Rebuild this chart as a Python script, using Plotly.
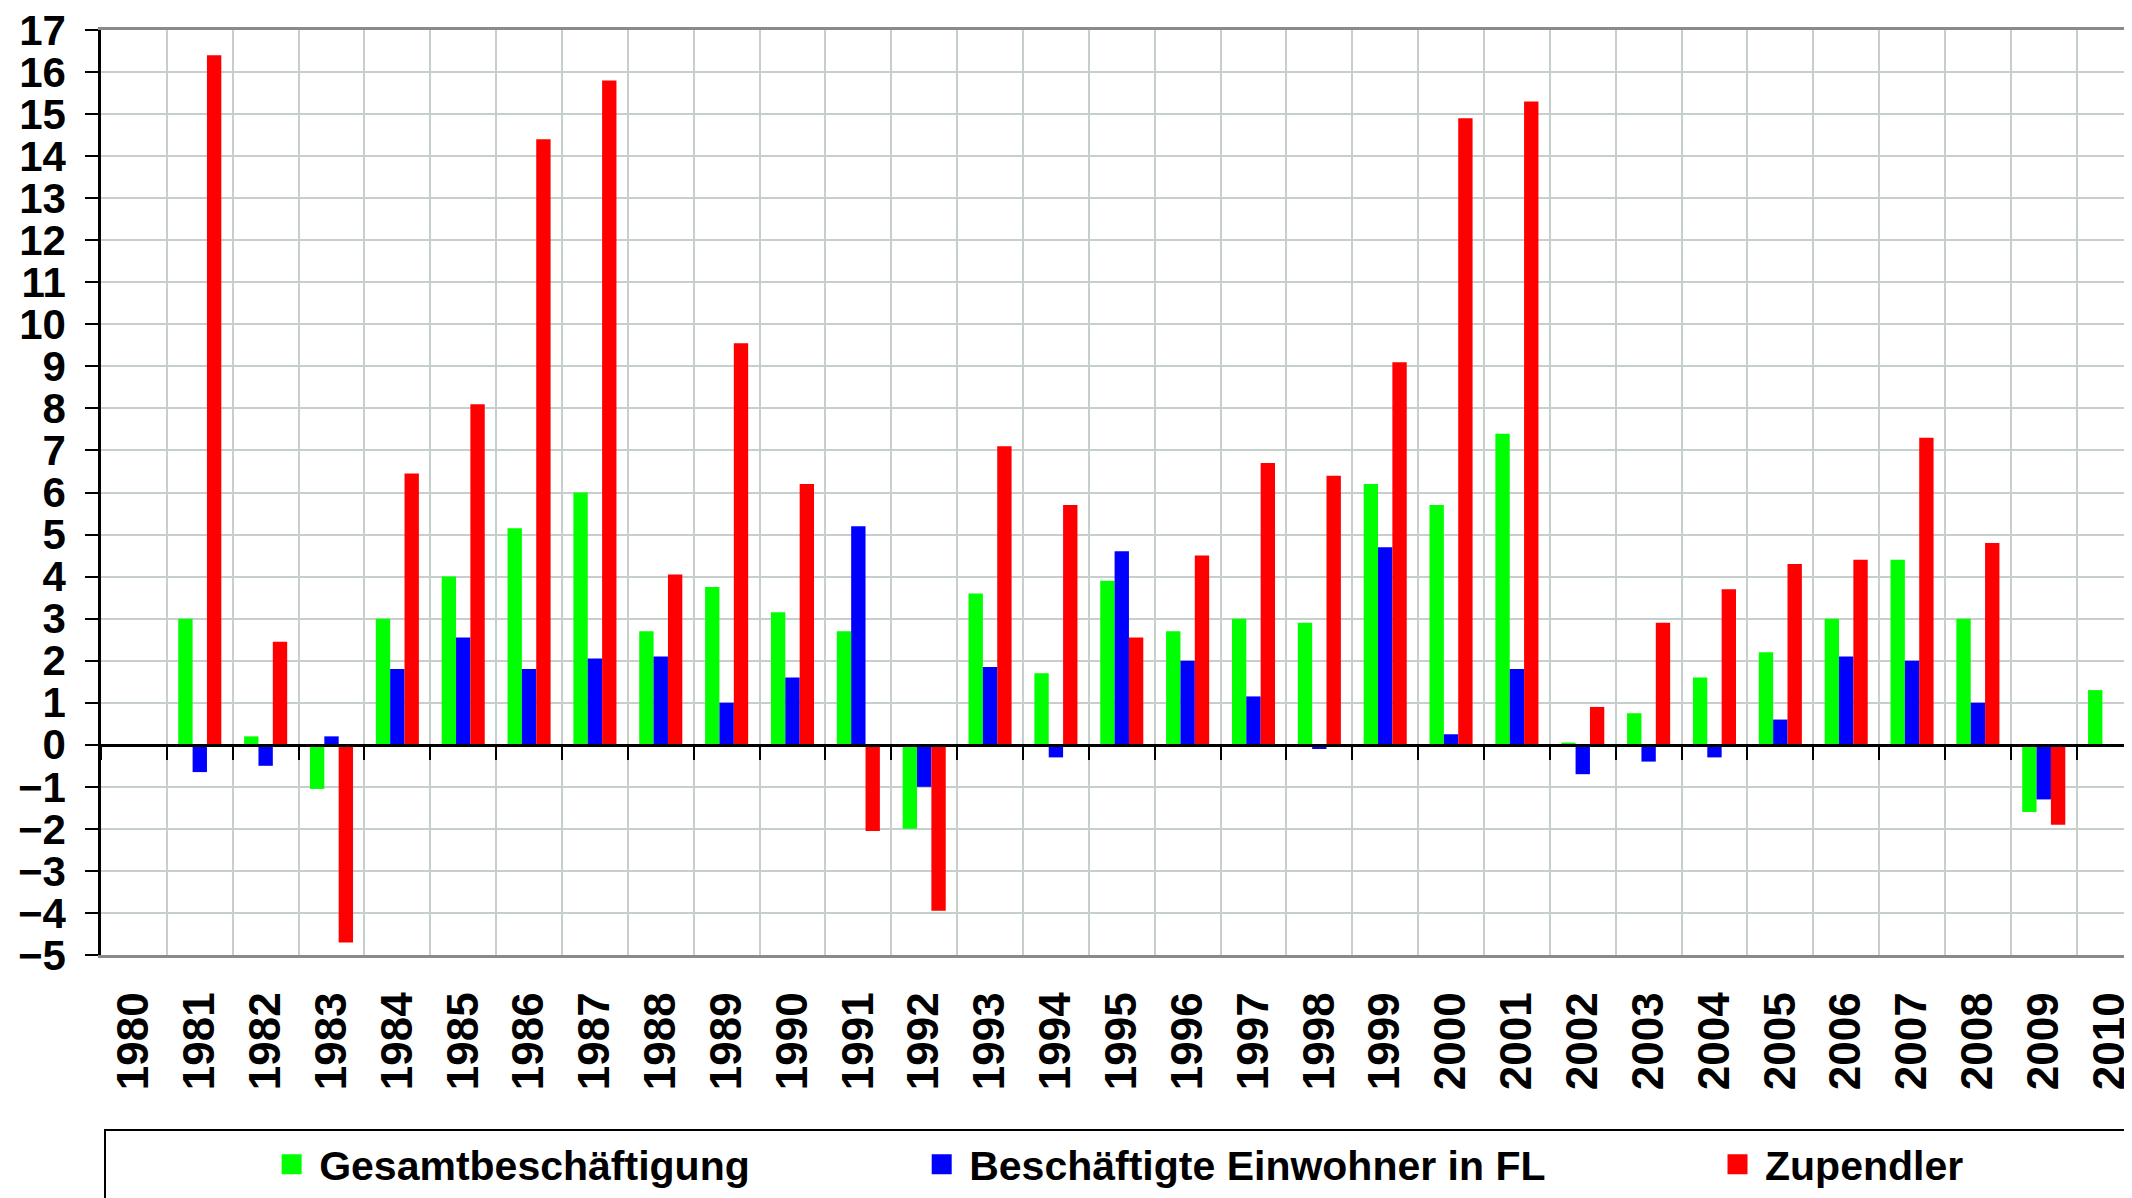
import plotly.graph_objects as go

years = [str(y) for y in range(1980, 2011)]
gesamt = [None, 3.0, 0.2, -1.05, 3.0, 4.0, 5.15, 6.0, 2.7, 3.75, 3.15, 2.7, -2.0, 3.6, 1.7, 3.9,
          2.7, 3.0, 2.9, 6.2, 5.7, 7.4, 0.05, 0.75, 1.6, 2.2, 3.0, 4.4, 3.0, -1.6, 1.3]
einwohner = [None, -0.65, -0.5, 0.2, 1.8, 2.55, 1.8, 2.05, 2.1, 1.0, 1.6, 5.2, -1.0, 1.85, -0.3, 4.6,
             2.0, 1.15, -0.1, 4.7, 0.25, 1.8, -0.7, -0.4, -0.3, 0.6, 2.1, 2.0, 1.0, -1.3, None]
zupendler = [None, 16.4, 2.45, -4.7, 6.45, 8.1, 14.4, 15.8, 4.05, 9.55, 6.2, -2.05, -3.95, 7.1, 5.7, 2.55,
             4.5, 6.7, 6.4, 9.1, 14.9, 15.3, 0.9, 2.9, 3.7, 4.3, 4.4, 7.3, 4.8, -1.9, None]

series = [
    ("Gesamtbeschäftigung", gesamt, "#00FF00"),
    ("Beschäftigte Einwohner in FL", einwohner, "#0000FF"),
    ("Zupendler", zupendler, "#FF0000"),
]

NB = "\u00a0"
pads = [14, 14, 14]

fig = go.Figure()
for name, vals, col in series:
    fig.add_trace(go.Bar(x=years, y=vals, name=name, marker=dict(color=col, line=dict(width=0)),
                         showlegend=False))
for (name, vals, col), p in zip(series, pads):
    fig.add_trace(go.Scatter(x=[None], y=[None], mode="markers", name=name + NB * p,
                             marker=dict(symbol="square", size=16, color=col,
                                         line=dict(color=col, width=4)),
                             showlegend=True, hoverinfo="skip"))
# helper trace for the zero-crossing axis with ticks
fig.add_trace(go.Scatter(x=years, y=[None] * len(years), xaxis="x2", mode="markers",
                         showlegend=False, hoverinfo="skip"))

font_family = "Liberation Sans, Arial, sans-serif"
grid = "#c6cfcc"

fig.update_layout(
    width=2124, height=1190,
    margin=dict(l=93, r=0, t=22, b=243, autoexpand=False),
    paper_bgcolor="white", plot_bgcolor="white",
    barmode="group", bargap=0.346, bargroupgap=0,
    font=dict(family=font_family, color="black"),
    xaxis=dict(
        type="category", range=[-0.5, 30.34], tickson="boundaries",
        showgrid=True, gridcolor=grid, gridwidth=2,
        ticks="", showline=True, mirror=True, linecolor="#8a8a8a", linewidth=2.5,
        tickangle=-90, tickfont=dict(size=44, weight="bold"),
        ticklabelstandoff=17, ticklabeloverflow="allow",
    ),
    xaxis2=dict(
        type="category", overlaying="x", matches="x", anchor="free", position=5 / 22,
        side="bottom", showline=True, linecolor="black", linewidth=2.5,
        ticks="outside", ticklen=13, tickwidth=2, tickcolor="black",
        tickson="boundaries", showticklabels=False, showgrid=False,
    ),
    yaxis=dict(
        range=[-5, 17], dtick=1, tick0=0, showgrid=True, gridcolor=grid, gridwidth=2,
        zeroline=False, showline=True, linecolor="black", linewidth=2.5,
        ticks="outside", ticklen=13, tickwidth=2, tickcolor="black",
        tickfont=dict(size=42, weight="bold"), ticklabelstandoff=11,
        ticklabeloverflow="allow",
    ),
    legend=dict(
        orientation="h", x=0.0015, xanchor="left", y=-(1121 - 947) / 925, yanchor="top",
        bordercolor="black", borderwidth=2, bgcolor="white",
        font=dict(size=41, family=font_family, weight="bold"),
        title=dict(text=NB * 13, side="left", font=dict(size=41)),
        itemwidth=45,
    ),
)

fig.write_html("out.html")
